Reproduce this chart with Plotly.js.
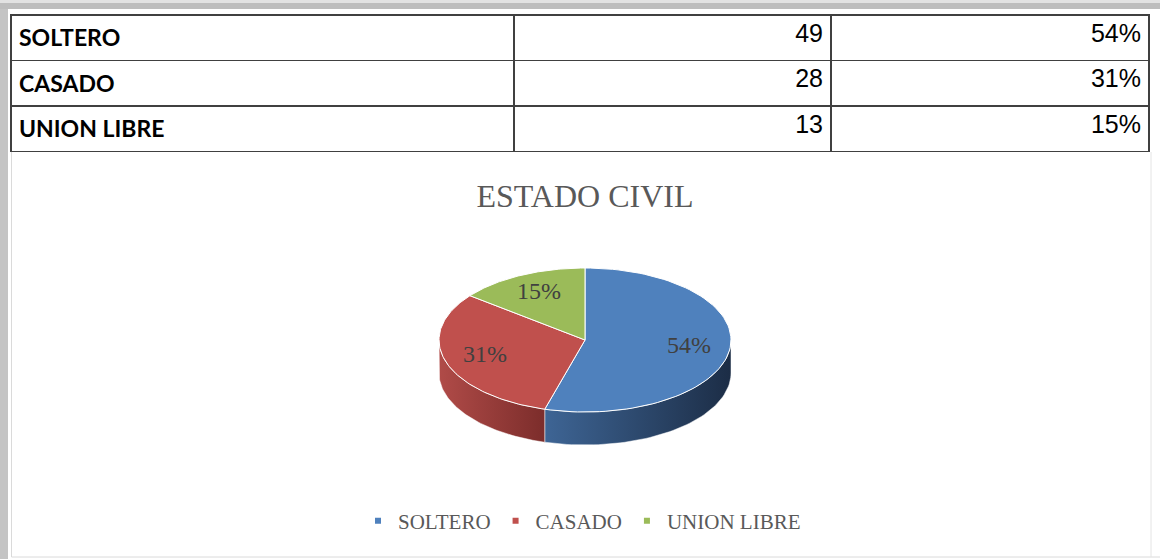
<!DOCTYPE html>
<html><head><meta charset="utf-8">
<script src="https://cdn.plot.ly/plotly-3.0.1.min.js"></script>
<style>html,body{margin:0;padding:0;background:#fff;overflow:hidden}#chart{width:1160px;height:559px}</style>
</head><body><div id="chart"></div>
<script>
// ---- data ----
const categories = ['SOLTERO', 'CASADO', 'UNION LIBRE'];
const counts = [49, 28, 13];
const percentLabels = ['54%', '31%', '15%'];
const chartTitle = 'ESTADO CIVIL';

// ---- styles ----
const topColors = ['#4F81BD', '#C0504D', '#9BBB59'];
const sideLight = ['#3E6595', '#B04B48', '#7E9C45'];
const sideDark = ['#1C2D46', '#7C2D2B', '#4E6428'];
const W = 1160, H = 559;
const cx = 585, cy = 340, rx = 146, ry = 72, depth = 33;
const labelFrac = 0.72;

const total = counts.reduce((a, b) => a + b, 0);
const deg = Math.PI / 180;
function pt(t) { return [cx + rx * Math.sin(t * deg), cy - ry * Math.cos(t * deg)]; }
function arc(a, b, n) {
  const out = [];
  for (let i = 0; i <= n; i++) out.push(pt(a + (b - a) * i / n));
  return out;
}

const traces = [];
const bounds = [];
let acc = 0;
counts.forEach(v => { const a = acc / total * 360; acc += v; bounds.push([a, acc / total * 360]); });

// side walls (front half: 90..270 deg)
bounds.forEach((bd, i) => {
  const a = Math.max(bd[0], 90), b = Math.min(bd[1], 270);
  if (b <= a) return;
  const top = arc(a, b, 60);
  const bottom = top.slice().reverse().map(p => [p[0], p[1] + depth]);
  const poly = top.concat(bottom);
  poly.push(top[0]);
  traces.push({
    type: 'scatter', mode: 'lines', fill: 'toself',
    x: poly.map(p => p[0]), y: poly.map(p => p[1]),
    line: {color: 'rgba(255,255,255,0.6)', width: 0.8},
    fillcolor: sideLight[i],
    fillgradient: {type: 'horizontal', colorscale: [[0, sideLight[i]], [1, sideDark[i]]]},
    showlegend: false, hoverinfo: 'skip'
  });
});

// top face slices
bounds.forEach((bd, i) => {
  const pts = [[cx, cy]].concat(arc(bd[0], bd[1], 90));
  pts.push([cx, cy]);
  traces.push({
    type: 'scatter', mode: 'lines', fill: 'toself',
    x: pts.map(p => p[0]), y: pts.map(p => p[1]),
    line: {color: '#FFFFFF', width: 1},
    fillcolor: topColors[i],
    showlegend: false, hoverinfo: 'skip'
  });
});

// percentage labels
traces.push({
  type: 'scatter', mode: 'text',
  x: bounds.map(bd => cx + rx * labelFrac * Math.sin((bd[0] + bd[1]) / 2 * deg)),
  y: bounds.map(bd => cy - ry * labelFrac * Math.cos((bd[0] + bd[1]) / 2 * deg)),
  text: percentLabels, textposition: 'middle center',
  textfont: {family: 'Liberation Serif', size: 24, color: '#404040'},
  showlegend: false, hoverinfo: 'skip'
});

// legend entries
categories.forEach((c, i) => {
  traces.push({
    type: 'scatter', mode: 'markers', name: c,
    x: [null], y: [null],
    marker: {symbol: 'square', size: 6, color: topColors[i]}
  });
});

// table: first row rendered as the (identically styled) header row
const tableCols = [categories.map(c => '<b>' + c + '</b>'), counts.map(String), percentLabels];
const cellStyle = {
  align: ['left', 'right', 'right'],
  height: 45.5,
  line: {color: '#404040', width: 1.5},
  fill: {color: '#FFFFFF'},
  font: {family: ['Lato', 'Liberation Sans', 'Liberation Sans'], size: [23, 25, 25], color: '#000000'}
};
traces.push({
  type: 'table',
  domain: {x: [11 / W, 1149 / W], y: [1 - 152 / H, 1 - 15 / H]},
  columnwidth: [503, 317, 318],
  header: Object.assign({values: tableCols.map(col => [col[0]])}, cellStyle),
  cells: Object.assign({values: tableCols.map(col => col.slice(1))}, cellStyle)
});

const shapes = [
  {type: 'rect', xref: 'x', yref: 'y', x0: 0, x1: 8, y0: 0, y1: H, fillcolor: '#C4C4C4', line: {width: 0}, layer: 'below'},
  {type: 'rect', xref: 'x', yref: 'y', x0: 0, x1: W, y0: 0, y1: 9, fillcolor: '#BDBDBD', line: {width: 0}, layer: 'below'},
  {type: 'rect', xref: 'x', yref: 'y', x0: 0, x1: W, y0: 0, y1: 3, fillcolor: '#E2E2E2', line: {width: 0}, layer: 'below'},
  {type: 'line', xref: 'x', yref: 'y', x0: 11.5, x1: 11.5, y0: 152, y1: 557, line: {color: '#DADADA', width: 1}, layer: 'below'},
  {type: 'line', xref: 'x', yref: 'y', x0: 11.5, x1: W, y0: 557, y1: 557, line: {color: '#DADADA', width: 1}, layer: 'below'},
  {type: 'line', xref: 'x', yref: 'y', x0: 1151, x1: 1151, y0: 152, y1: 557, line: {color: '#E4E4E4', width: 1}, layer: 'below'}
];

const layout = {
  width: W, height: H,
  margin: {l: 0, r: 0, t: 0, b: 0},
  paper_bgcolor: '#FFFFFF', plot_bgcolor: '#FFFFFF',
  xaxis: {range: [0, W], visible: false, fixedrange: true},
  yaxis: {range: [H, 0], visible: false, fixedrange: true},
  title: {text: chartTitle, x: cx / W, xanchor: 'center', y: 1 - 196 / H, yanchor: 'middle', yref: 'paper',
          font: {family: 'Liberation Serif', size: 32, color: '#595959'}},
  showlegend: true,
  legend: {orientation: 'h', x: (cx - 3) / W, xanchor: 'center', y: 1 - 521 / H, yanchor: 'middle',
           font: {family: 'Liberation Serif', size: 21, color: '#595959'}, itemwidth: 30, bgcolor: 'rgba(0,0,0,0)'},
  hovermode: false,
  shapes: shapes
};

Plotly.newPlot('chart', traces, layout, {displayModeBar: false, staticPlot: true});
</script></body></html>
